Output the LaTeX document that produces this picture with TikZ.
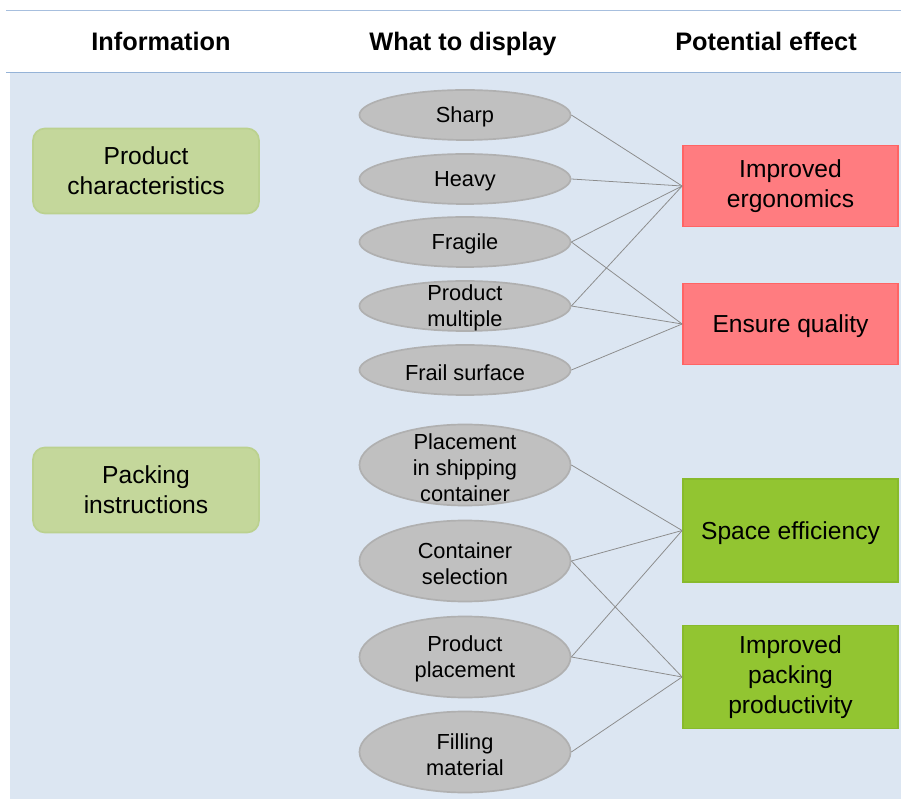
\documentclass[tikz,border=0pt]{standalone}
\usepackage{fontspec}
\setmainfont{Liberation Sans}
\usepackage{xcolor}
\usepackage{tikz}
\usetikzlibrary{shapes.geometric}

\definecolor{panelblue}{HTML}{DCE6F2}
\definecolor{ruletop}{HTML}{A7BFDE}
\definecolor{rulehead}{HTML}{95B3D7}
\definecolor{infofill}{HTML}{C4D79B}
\definecolor{infoline}{HTML}{BBD18F}
\definecolor{dispfill}{HTML}{C0C0C0}
\definecolor{displine}{HTML}{B0B0B0}
\definecolor{redfill}{HTML}{FF7C80}
\definecolor{redline}{HTML}{FF6464}
\definecolor{greenfill}{HTML}{92C531}
\definecolor{greenline}{HTML}{88BA2C}
\definecolor{linkgray}{HTML}{8C8C8C}

\begin{document}
\begin{tikzpicture}[x = 0.025cm, y = -0.025cm,
		head/.style = {anchor = base, font = \fontsize{18}{21}\selectfont\bfseries},
		info/.style = {draw = infoline, fill = infofill, line width = 1.2pt, rounded corners = 0.3cm, minimum width = 5.65cm, minimum height = 2.125cm, align = center, font = \fontsize{17.5}{21.3}\selectfont},
		disp/.style = {ellipse, draw = displine, fill = dispfill, line width = 1.2pt, minimum width = 5.275cm, minimum height = 1.25cm, inner sep = 0pt},
		tall/.style = {minimum height = 2.025cm},
		disptext/.style = {align = center, inner sep = 0pt, yshift = -1.6pt, font = \fontsize{15.5}{18.5}\selectfont},
		effect/.style = {line width = 1.2pt, minimum width = 5.375cm, align = center, font = \fontsize{17.5}{21.3}\selectfont},
		oneline/.style = {text height = 16.4pt, text depth = 3.7pt},
		bad/.style = {effect, draw = redline, fill = redfill, minimum height = 2.025cm},
		good/.style = {effect, draw = greenline, fill = greenfill, minimum height = 2.575cm},
		link/.style = {draw = linkgray, line width = 0.55pt}]
						\useasboundingbox (0,0) rectangle (901,799);
						\begin{scope}
							\fill [panelblue] (10,73) rectangle (901,799);
							\draw [ruletop, line width = 1.4pt] (6,10.5) -- (901,10.5);
							\draw [rulehead, line width = 1.4pt] (6,72.5) -- (901,72.5);
						\end{scope}
						\begin{scope}
							\node [head] (hinfo) at (161,51) {Information};
							\node [head] (hdisp) at (463,51) {What to display};
							\node [head] (heffect) at (766,51) {Potential effect};
						\end{scope}
						\begin{scope}
							\node [info] (prodchar) at (146,171) {Product\\characteristics};
							\node [info] (packinstr) at (146,490) {Packing\\instructions};
						\end{scope}
						\begin{scope}
							\node [disp, label = {[disptext]center:Sharp}] (sharp) at (465,115) {};
							\node [disp, label = {[disptext]center:Heavy}] (heavy) at (465,179) {};
							\node [disp, label = {[disptext]center:Fragile}] (fragile) at (465,242) {};
							\node [disp, label = {[disptext]center:Product\\multiple}] (multiple) at (465,306) {};
							\node [disp, label = {[disptext]center:Frail surface}] (frail) at (465,370) {};
							\node [disp, tall, label = {[disptext]center:Placement\\in shipping\\container}] (placement) at (465,465) {};
							\node [disp, tall, label = {[disptext]center:Container\\selection}] (selection) at (465,561) {};
							\node [disp, tall, label = {[disptext]center:Product\\placement}] (prodplace) at (465,657) {};
							\node [disp, tall, label = {[disptext]center:Filling\\material}] (filling) at (465,752) {};
						\end{scope}
						\begin{scope}
							\node [bad] (ergo) at (790.5,186) {Improved\\ergonomics};
							\node [bad, oneline] (quality) at (790.5,324) {Ensure quality};
							\node [good, oneline] (space) at (790.5,530.5) {Space efficiency};
							\node [good] (productivity) at (790.5,677) {Improved\\packing\\productivity};
						\end{scope}
						\begin{scope}[link]
							\draw (sharp.east) -- (ergo.west);
							\draw (heavy.east) -- (ergo.west);
							\draw (fragile.east) -- (ergo.west);
							\draw (fragile.east) -- (quality.west);
							\draw (multiple.east) -- (ergo.west);
							\draw (multiple.east) -- (quality.west);
							\draw (frail.east) -- (quality.west);
							\draw (placement.east) -- (space.west);
							\draw (selection.east) -- (space.west);
							\draw (selection.east) -- (productivity.west);
							\draw (prodplace.east) -- (space.west);
							\draw (prodplace.east) -- (productivity.west);
							\draw (filling.east) -- (productivity.west);
						\end{scope}
					\end{tikzpicture}
\end{document}
